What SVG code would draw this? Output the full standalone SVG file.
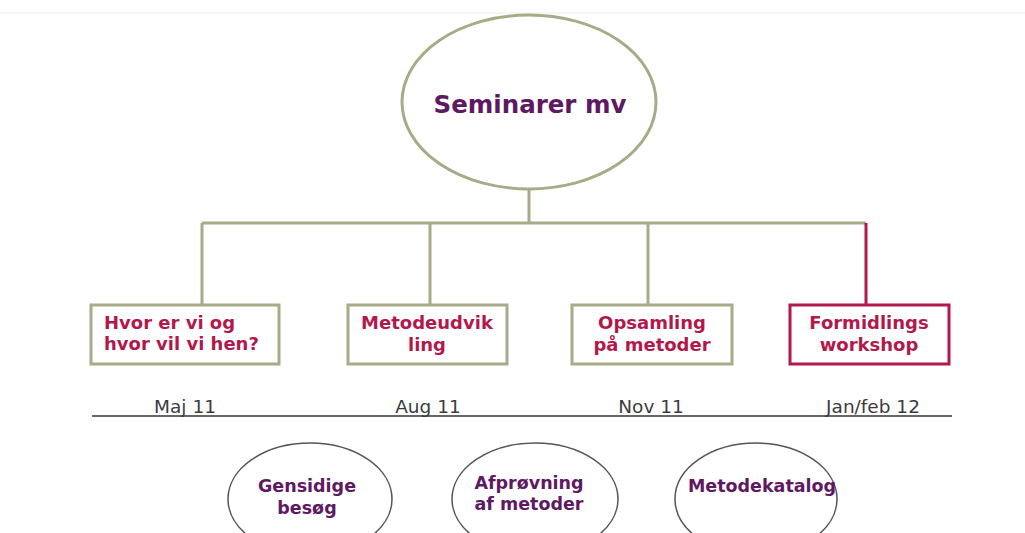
<svg xmlns="http://www.w3.org/2000/svg" width="1025" height="533" viewBox="0 0 1025 533">
<style>
.ol{fill:none;stroke:#a8aa88;stroke-width:3}
.cr{fill:none;stroke:#b3184c;stroke-width:3}
.bx{fill:#fff;stroke:#a8aa88;stroke-width:3}
.bxr{fill:#fff;stroke:#b3184c;stroke-width:3}
.el{fill:#fff;stroke:#555;stroke-width:1.5}
.t{font-family:"DejaVu Sans",Verdana,sans-serif;font-weight:bold;font-size:18px;fill:#b3184c}
.p{font-family:"DejaVu Sans",Verdana,sans-serif;font-weight:bold;font-size:17.5px;fill:#5e1962}
.d{font-family:"DejaVu Sans",Verdana,sans-serif;font-size:18.5px;fill:#3c3c3c;text-anchor:middle}
</style>
<rect width="1025" height="533" fill="#fff"/>
<line x1="0" y1="13" x2="1025" y2="13" stroke="#eeeeee" stroke-width="1"/>
<g id="connectors">
<path class="ol" d="M529 189V223M202 223H866M202 223V305M430 223V305M648 223V305"/>
<path class="cr" d="M866 223V305"/>
<line x1="92" y1="416" x2="952" y2="416" stroke="#666" stroke-width="2"/>
</g>
<g id="root">
<ellipse cx="529" cy="102" rx="127" ry="87" fill="#fff" stroke="#a8aa88" stroke-width="3"/>
<text x="530" y="113" class="p" style="font-size:24.5px" text-anchor="middle">Seminarer mv</text>
</g>
<g id="n1">
<rect class="bx" x="91" y="305" width="188" height="59"/>
<text class="t" x="104" y="329">Hvor er vi og</text>
<text class="t" x="104" y="350">hvor vil vi hen?</text>
</g>
<g id="n2">
<rect class="bx" x="348" y="305" width="159" height="59"/>
<text class="t" x="427" y="329" text-anchor="middle">Metodeudvik</text>
<text class="t" x="427" y="351" text-anchor="middle">ling</text>
</g>
<g id="n3">
<rect class="bx" x="572" y="305" width="160" height="59"/>
<text class="t" x="652" y="329" text-anchor="middle">Opsamling</text>
<text class="t" x="652" y="351" text-anchor="middle">på metoder</text>
</g>
<g id="n4">
<rect class="bxr" x="790" y="305" width="159" height="59"/>
<text class="t" x="869" y="329" text-anchor="middle">Formidlings</text>
<text class="t" x="869" y="351" text-anchor="middle">workshop</text>
</g>
<g id="dates">
<text class="d" x="185" y="413">Maj 11</text>
<text class="d" x="428" y="413">Aug 11</text>
<text class="d" x="651" y="413">Nov 11</text>
<text class="d" x="873" y="413">Jan/feb 12</text>
</g>
<g id="b1">
<ellipse class="el" cx="310" cy="499" rx="82" ry="56"/>
<text class="p" x="307" y="492" text-anchor="middle">Gensidige</text>
<text class="p" x="307" y="514" text-anchor="middle">besøg</text>
</g>
<g id="b2">
<ellipse class="el" cx="535" cy="499" rx="83" ry="56"/>
<text class="p" x="529" y="489" text-anchor="middle">Afprøvning</text>
<text class="p" x="529" y="510" text-anchor="middle">af metoder</text>
</g>
<g id="b3">
<ellipse class="el" cx="756" cy="499" rx="81" ry="56"/>
<text class="p" x="762" y="492" text-anchor="middle">Metodekatalog</text>
</g>
</svg>
